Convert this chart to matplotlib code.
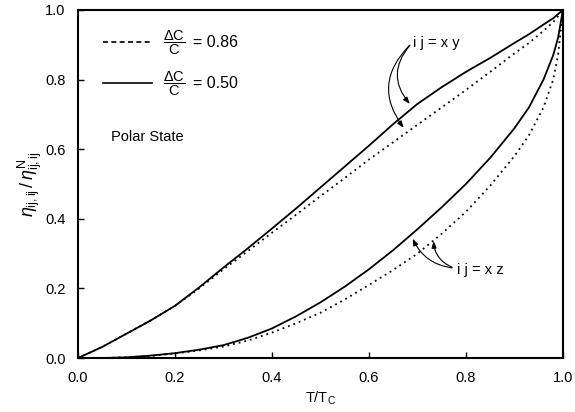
import matplotlib
matplotlib.use("Agg")
import matplotlib.pyplot as plt

plt.rcParams['font.family'] = ['Liberation Sans', 'DejaVu Sans']
plt.rcParams['mathtext.fontset'] = 'custom'
plt.rcParams['mathtext.rm'] = 'Liberation Sans'
plt.rcParams['mathtext.it'] = 'Liberation Sans:italic'

# T/Tc sample points
t = [0.0, 0.05, 0.1, 0.15, 0.2, 0.25, 0.3, 0.35, 0.4, 0.45, 0.5, 0.55,
     0.6, 0.65, 0.7, 0.75, 0.8, 0.85, 0.9, 0.93, 0.96, 0.98, 0.99, 1.0]

# ij = xy
xy_050 = [0.0, 0.032, 0.07, 0.108, 0.15, 0.203, 0.26, 0.315, 0.372, 0.43, 0.49, 0.55,
          0.61, 0.672, 0.73, 0.778, 0.822, 0.862, 0.905, 0.93, 0.958, 0.976, 0.988, 1.0]
xy_086 = [0.0, 0.032, 0.07, 0.108, 0.15, 0.2, 0.255, 0.307, 0.36, 0.412, 0.465, 0.517,
          0.57, 0.62, 0.67, 0.72, 0.77, 0.822, 0.875, 0.905, 0.94, 0.965, 0.982, 1.0]

# ij = xz
xz_050 = [0.0, 0.0, 0.002, 0.007, 0.014, 0.024, 0.037, 0.058, 0.085, 0.12, 0.16, 0.205,
          0.255, 0.31, 0.37, 0.433, 0.5, 0.575, 0.66, 0.72, 0.8, 0.87, 0.92, 1.0]
xz_086 = [0.0, 0.0, 0.002, 0.006, 0.013, 0.022, 0.033, 0.05, 0.073, 0.1, 0.13, 0.168,
          0.21, 0.253, 0.3, 0.357, 0.42, 0.495, 0.58, 0.64, 0.72, 0.8, 0.87, 1.0]

fig = plt.figure(figsize=(5.75, 4.12), dpi=100)
ax = fig.add_axes([0.1357, 0.131, 0.8433, 0.845])

ax.plot(t, xy_050, color="black", lw=1.3)
ax.plot(t, xz_050, color="black", lw=1.3)
ax.plot(t, xy_086, color="black", lw=1.3, linestyle=(0, (1, 2.2)))
ax.plot(t, xz_086, color="black", lw=1.3, linestyle=(0, (1, 2.2)))

ax.set_xlim(0, 1)
ax.set_ylim(0, 1)
ax.set_xticks([0.0, 0.2, 0.4, 0.6, 0.8, 1.0])
ax.set_yticks([0.0, 0.2, 0.4, 0.6, 0.8, 1.0])
ax.xaxis.set_major_formatter(matplotlib.ticker.FormatStrFormatter("%.1f"))
ax.yaxis.set_major_formatter(matplotlib.ticker.FormatStrFormatter("%.1f"))
ax.tick_params(direction="in", length=4, width=1, labelsize=10.5, pad=9,
               top=False, right=False)
for s in ax.spines.values():
    s.set_linewidth(1.5)

ax.set_xlabel(r"T/T$_\mathrm{C}$", fontsize=10.5, labelpad=4)
ax.set_ylabel(r"$\eta_{\mathrm{ij,ij}}\,/\,\eta^{\mathrm{N}}_{\mathrm{ij,ij}}$", fontsize=13, labelpad=1)

# legend drawn by hand
ax.plot([0.052, 0.153], [0.907, 0.907], transform=ax.transAxes, color="black",
        lw=1.2, linestyle=(0, (3, 2)))
ax.plot([0.052, 0.153], [0.789, 0.789], transform=ax.transAxes, color="black", lw=1.2)
ax.text(0.175, 0.907, r"$\dfrac{\Delta\mathrm{C}}{\mathrm{C}}$", transform=ax.transAxes,
        ha="left", va="center", fontsize=10.5)
ax.text(0.238, 0.907, "= 0.86", transform=ax.transAxes,
        ha="left", va="center", fontsize=11.5)
ax.text(0.175, 0.789, r"$\dfrac{\Delta\mathrm{C}}{\mathrm{C}}$", transform=ax.transAxes,
        ha="left", va="center", fontsize=10.5)
ax.text(0.238, 0.789, "= 0.50", transform=ax.transAxes,
        ha="left", va="center", fontsize=11.5)
ax.text(0.067, 0.635, "Polar State", transform=ax.transAxes, ha="left", va="center",
        fontsize=10.5)

# curve labels with curved pointers
head = "-|>,head_length=0.4,head_width=0.15"
ax.text(0.69, 0.905, "i j = x y", ha="left", va="center", fontsize=10.5)
ax.annotate("", xy=(0.688, 0.724), xytext=(0.688, 0.904),
            arrowprops=dict(arrowstyle=head, color="black", lw=0.8,
                            connectionstyle="arc3,rad=0.45"))
ax.annotate("", xy=(0.675, 0.655), xytext=(0.688, 0.904),
            arrowprops=dict(arrowstyle=head, color="black", lw=0.8,
                            connectionstyle="arc3,rad=0.45"))
ax.text(0.782, 0.254, "i j = x z", ha="left", va="center", fontsize=10.5)
ax.annotate("", xy=(0.688, 0.35), xytext=(0.777, 0.258),
            arrowprops=dict(arrowstyle=head, color="black", lw=0.8,
                            connectionstyle="arc3,rad=-0.3"))
ax.annotate("", xy=(0.733, 0.344), xytext=(0.777, 0.258),
            arrowprops=dict(arrowstyle=head, color="black", lw=0.8,
                            connectionstyle="arc3,rad=-0.35"))

fig.savefig("out.png", dpi=100)
